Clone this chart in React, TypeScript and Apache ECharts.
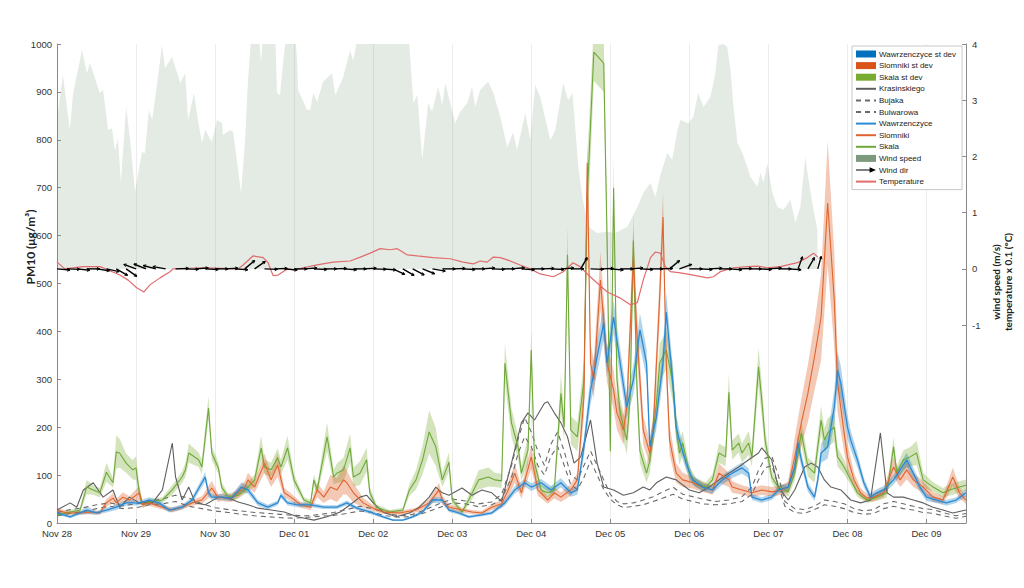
import React, { useEffect, useRef } from 'react';
import * as echarts from 'echarts';

const FONT = '"Liberation Sans", Arial, sans-serif';
const NAME_FONT = 'Lato, "Open Sans", sans-serif';

const dayLabels = ['Nov 28', 'Nov 29', 'Nov 30', 'Dec 01', 'Dec 02', 'Dec 03', 'Dec 04', 'Dec 05', 'Dec 06', 'Dec 07', 'Dec 08', 'Dec 09'];
const rightTicks = [-1, 0, 1, 2, 3, 4];

// [hours since Nov 28 00:00, wind speed m/s]
const windSpeed: [number, number][] = [
  [0, 2.65], [1.8, 3.45], [3.9, 2.47], [4.9, 3.13], [7.6, 3.89], [9.1, 3.48], [10, 3.66], [13, 3.13], [14, 3.18], [15.5, 2.47], [16.7, 2.5], [17.6, 2.1], [18.5, 2.33], [19.4, 1.53], [21, 2.88], [22.2, 2.29], [23.7, 1.37], [25.8, 2.08], [26.7, 2.06], [27.9, 2.83], [28.9, 2.65], [30.4, 3.3], [31.9, 3.98], [32.8, 3.57], [34.9, 3.77], [36.5, 3.48], [37.4, 3.3], [38.9, 3.48], [39.8, 2.65], [41.6, 3.13], [42.8, 2.65], [44, 2.24], [45, 2.47], [47, 2.26], [48.6, 2.65], [50.1, 2.59], [50.4, 2.38], [52.6, 2.47], [53.5, 2.43], [55.9, 1.35], [57.1, 2.29], [58, 3.36], [59.2, 4.3], [61, 4.3], [62, 3.66], [62.6, 4.3], [66.2, 4.3], [66.8, 3.13], [67.7, 3.09], [68.7, 3.7], [69.9, 4.3], [72.3, 4.3], [72.9, 3.66], [73.2, 3.18], [75.9, 2.83], [76.9, 2.83], [77.8, 3.13], [79, 2.97], [80.8, 3.33], [83.5, 3.48], [84.5, 3.09], [86.9, 3.41], [89, 3.89], [89.9, 3.7], [92, 4.3], [106.6, 4.3], [108.2, 2.95], [109.4, 3.09], [110.9, 1.94], [112.7, 2.95], [113.9, 2.79], [115.7, 3.24], [117, 2.92], [117.9, 3.3], [119.4, 2.95], [120.9, 2.59], [122.4, 2.79], [124.6, 2.95], [126, 3.24], [127, 2.88], [128.5, 3.18], [130.9, 3.33], [132.5, 3.13], [134.6, 2.7], [136.7, 2.17], [138.5, 2.42], [139.7, 2.12], [142.2, 2.77], [143.7, 2.29], [145.2, 3.27], [146.7, 3.06], [149.8, 2.29], [151.3, 2.47], [153.7, 3.3], [155.2, 3.0], [156.5, 3.13], [158.3, 1.81], [159.5, 1.28], [161.3, 0.75], [164, 0.64], [167.1, 0.66], [169.5, 0.64], [173.2, 0.75], [176.2, 1.1], [178, 1.35], [180.2, 1.53], [181.7, 1.28], [183.2, 1.67], [185.3, 2.06], [186.8, 1.94], [188.4, 2.47], [189.3, 2.65], [191.7, 2.59], [193.2, 2.7], [194.7, 3.13], [196.3, 2.88], [198.4, 3.06], [199.9, 3.48], [200.8, 3.98], [202.3, 4.0], [203.5, 3.95], [204.5, 3.54], [205.4, 2.88], [206.6, 2.24], [208.1, 2.06], [209.6, 1.81], [210.5, 1.64], [212.7, 1.46], [213.6, 1.71], [214.5, 1.53], [215.7, 1.88], [217.2, 1.35], [218.7, 1.1], [220.6, 1.05], [222.7, 1.23], [224.2, 0.82], [225.7, 1.1], [227.2, 1.99], [228.2, 1.58], [229.7, 1.05], [230.9, 0.69],
];

// [hours, temperature x 0.1 °C]
const temperature: [number, number][] = [
  [0, 0.12], [2.4, 0], [7.9, 0.04], [13.1, 0.04], [15.5, -0.02], [19.1, -0.11], [21.6, -0.2], [24.3, -0.34], [26.4, -0.41], [28.3, -0.28], [31.3, -0.16], [34.3, -0.05], [35.2, 0], [45, 0.02], [55, 0], [56.5, 0.07], [59.5, 0.23], [62.6, 0.2], [64.1, 0.11], [65.6, -0.12], [67.1, -0.11], [69.9, 0], [72.3, -0.02], [74.7, 0.02], [79, 0.07], [83.8, 0.12], [89, 0.14], [92.1, 0.21], [95.1, 0.28], [98.1, 0.36], [101.2, 0.34], [103.3, 0.36], [106.3, 0.25], [109.4, 0.23], [114.2, 0.2], [119.4, 0.18], [123.3, 0.12], [126.4, 0.09], [128.5, 0.14], [130.6, 0.12], [132.5, 0.21], [134.6, 0.2], [136.7, 0.16], [140.6, 0.07], [143.7, 0], [146.7, -0.09], [150.7, -0.14], [153.7, -0.05], [156.7, 0.11], [158.8, 0.04], [161.9, -0.14], [164, -0.25], [167.1, -0.41], [171, -0.52], [174.1, -0.64], [176.2, -0.6], [178, -0.2], [180.2, 0.2], [181.7, 0.3], [183.2, 0.28], [184.7, 0.04], [186.2, -0.05], [189.3, -0.07], [193.2, -0.11], [197.5, -0.16], [199.3, -0.14], [201.4, -0.05], [205.4, 0.02], [209.6, 0.04], [212.7, 0.05], [215.7, 0.02], [219.6, 0.04], [224.8, 0.11], [227.8, 0.2], [229.7, 0.28], [231, 0.21],
];

// [hours, arrow direction in degrees (0 = east, 90 = north)]
const windDir: [number, number][] = [
  [0, -5], [3, -2], [6, -6], [9, 0], [12, -8], [15, -12], [18, -30], [21, -35], [24, 160], [27, 158], [30, 165], [33, 170], [36, 2], [39, -2], [42, 4], [45, -3], [48, 0], [51, 3], [54, -4], [57, 40], [60, 35], [63, -2], [66, 2], [69, -5], [72, 0], [75, 4], [78, -3], [81, 0], [84, 2], [87, -4], [90, 0], [93, 3], [96, -2], [99, -5], [102, -25], [105, -30], [108, -28], [111, -22], [114, -10], [117, 0], [120, 2], [123, -3], [126, 0], [129, 4], [132, -2], [135, 0], [138, 5], [141, -4], [144, 0], [147, 2], [150, -3], [153, 4], [156, 0], [159, 60], [162, -2], [165, 2], [168, -5], [171, 0], [174, 4], [177, -3], [180, 0], [183, 2], [186, 40], [189, 20], [192, 0], [195, -3], [198, 3], [201, 0], [204, -4], [207, 2], [210, 0], [213, -3], [216, 4], [219, 0], [222, -4], [225, 70], [228, 60], [231, 75],
];

// [hours, PM10]
const krasinskiego: [number, number][] = [
  [0, 27], [4, 42], [6, 33], [8, 69], [11, 84], [14, 54], [17, 69], [19, 33], [22, 54], [25, 42], [29, 42], [32, 69], [35, 167], [36, 96], [38, 48], [40, 75], [42, 42], [45, 38], [49, 54], [52, 52], [55, 44], [58, 38], [61, 31], [65, 27], [69, 23], [73, 13], [78, 6], [82, 13], [86, 23], [89, 38], [92, 54], [94, 58], [96, 42], [99, 23], [103, 13], [107, 21], [110, 33], [113, 54], [115, 75], [117, 63], [119, 58], [123, 73], [126, 58], [129, 69], [132, 63], [135, 45], [138, 125], [141, 209], [143, 230], [145, 215], [148, 250], [149, 253], [151, 230], [153, 209], [155, 180], [157, 125], [159, 138], [162, 215], [164, 125], [166, 75], [169, 69], [172, 58], [175, 63], [178, 75], [180, 69], [182, 84], [185, 96], [188, 90], [192, 69], [195, 63], [198, 75], [201, 90], [204, 104], [207, 117], [210, 132], [213, 146], [214, 157], [217, 132], [219, 75], [222, 48], [224, 69], [227, 117], [229, 125], [231, 117], [233, 90], [235, 75], [238, 69], [241, 48], [244, 42], [247, 48], [250, 188], [252, 63], [254, 54], [257, 54], [260, 48], [263, 42], [266, 33], [269, 27], [272, 21], [276, 27],
];

const bujaka: [number, number][] = [
  [0, 22], [4, 28], [8, 32], [12, 38], [16, 42], [20, 36], [24, 40], [28, 45], [32, 50], [36, 58], [40, 52], [44, 40], [48, 32], [52, 28], [56, 25], [60, 22], [64, 20], [68, 18], [72, 16], [76, 15], [80, 18], [84, 22], [88, 28], [92, 35], [96, 30], [100, 20], [104, 15], [108, 18], [112, 28], [116, 40], [120, 50], [124, 46], [128, 40], [132, 44], [135, 60], [138, 120], [140, 175], [142, 220], [144, 190], [146, 150], [148, 120], [150, 165], [152, 190], [154, 150], [156, 100], [158, 90], [160, 120], [162, 150], [164, 120], [166, 90], [168, 60], [170, 45], [172, 40], [175, 42], [178, 48], [181, 55], [184, 65], [187, 75], [190, 60], [193, 55], [196, 50], [200, 45], [204, 48], [208, 55], [211, 75], [213, 110], [215, 135], [217, 140], [219, 100], [221, 45], [224, 30], [227, 28], [230, 35], [233, 48], [236, 45], [239, 40], [242, 30], [245, 25], [248, 28], [251, 40], [254, 45], [257, 40], [260, 35], [263, 30], [266, 28], [270, 20], [273, 15], [276, 20],
];

const bulwarowa: [number, number][] = [
  [0, 15], [4, 20], [8, 24], [12, 30], [16, 35], [20, 30], [24, 32], [28, 38], [32, 40], [36, 45], [40, 35], [44, 30], [48, 25], [52, 22], [56, 18], [60, 15], [64, 13], [68, 11], [72, 10], [76, 12], [80, 14], [84, 16], [88, 20], [92, 25], [96, 22], [100, 15], [104, 12], [108, 14], [112, 22], [116, 32], [120, 42], [124, 40], [128, 34], [132, 38], [135, 50], [138, 95], [140, 145], [142, 180], [144, 160], [146, 120], [148, 100], [150, 140], [152, 160], [154, 120], [156, 80], [158, 70], [160, 95], [162, 130], [164, 100], [166, 70], [168, 50], [170, 38], [172, 32], [175, 35], [178, 38], [181, 45], [184, 52], [187, 60], [190, 50], [193, 45], [196, 40], [200, 38], [204, 40], [208, 45], [211, 60], [213, 90], [215, 115], [217, 120], [219, 80], [221, 35], [224, 22], [227, 20], [230, 28], [233, 38], [236, 35], [239, 30], [242, 22], [245, 18], [248, 20], [251, 30], [254, 35], [257, 30], [260, 27], [263, 22], [266, 20], [270, 14], [273, 10], [276, 14],
];

// [hours, mean PM10, st dev]
const wawrzenczyce: [number, number, number][] = [
  [0, 21, 4], [4, 13, 3], [7, 21, 4], [9, 27, 8], [12, 21, 4], [15, 27, 5], [18, 33, 6], [21, 42, 6], [25, 42, 5], [28, 48, 6], [31, 42, 6], [34, 27, 5], [38, 33, 5], [41, 48, 6], [45, 96, 10], [46, 63, 8], [47, 54, 6], [50, 54, 6], [53, 52, 6], [56, 75, 10], [58, 69, 8], [61, 42, 6], [64, 33, 5], [67, 42, 5], [68, 58, 6], [70, 42, 5], [73, 38, 5], [77, 38, 5], [81, 33, 4], [85, 33, 4], [88, 42, 5], [91, 31, 4], [95, 23, 4], [99, 13, 3], [102, 6, 2], [105, 6, 2], [108, 13, 3], [111, 23, 4], [114, 48, 6], [117, 48, 6], [119, 27, 4], [122, 21, 4], [125, 13, 3], [129, 17, 3], [132, 21, 4], [136, 42, 6], [139, 69, 8], [142, 84, 8], [144, 75, 8], [147, 84, 8], [150, 69, 8], [153, 84, 10], [156, 63, 8], [158, 69, 10], [160, 159, 20], [162, 278, 30], [164, 347, 35], [166, 418, 35], [167, 334, 30], [169, 430, 35], [171, 334, 30], [173, 242, 25], [175, 299, 30], [177, 403, 35], [179, 334, 30], [180, 159, 20], [182, 221, 25], [184, 334, 35], [185, 440, 40], [187, 292, 30], [188, 200, 25], [189, 173, 20], [191, 125, 15], [193, 90, 10], [196, 75, 8], [199, 69, 8], [202, 90, 10], [205, 104, 10], [208, 115, 12], [210, 104, 10], [211, 54, 6], [214, 48, 6], [217, 54, 6], [219, 69, 8], [222, 75, 8], [224, 117, 12], [225, 167, 20], [226, 132, 15], [228, 75, 10], [230, 54, 8], [231, 90, 12], [232, 146, 20], [234, 159, 25], [236, 242, 35], [237, 319, 40], [238, 292, 35], [240, 200, 25], [241, 173, 20], [243, 132, 15], [245, 84, 10], [247, 54, 8], [249, 63, 8], [251, 69, 8], [254, 90, 10], [256, 111, 12], [258, 132, 15], [260, 104, 12], [262, 75, 10], [264, 54, 8], [267, 48, 6], [270, 42, 6], [273, 48, 6], [276, 63, 8],
];

const slomniki: [number, number, number][] = [
  [0, 27, 5], [3, 21, 4], [7, 21, 4], [10, 23, 4], [13, 21, 4], [15, 42, 8], [17, 52, 10], [18, 42, 8], [20, 54, 10], [22, 48, 8], [25, 63, 15], [26, 38, 6], [28, 42, 6], [32, 33, 5], [35, 27, 5], [38, 33, 5], [41, 42, 6], [44, 48, 8], [47, 73, 15], [49, 52, 8], [50, 54, 8], [53, 52, 8], [57, 75, 12], [58, 90, 15], [60, 75, 12], [63, 125, 20], [65, 90, 15], [67, 121, 25], [69, 63, 10], [71, 54, 8], [74, 38, 6], [77, 33, 6], [79, 69, 15], [81, 54, 12], [83, 75, 25], [85, 69, 25], [87, 90, 30], [88, 84, 25], [90, 63, 20], [93, 42, 10], [96, 31, 6], [99, 23, 4], [104, 21, 4], [109, 27, 5], [113, 42, 8], [116, 69, 15], [117, 48, 10], [119, 33, 6], [123, 27, 5], [126, 23, 4], [129, 21, 4], [132, 33, 6], [135, 40, 8], [137, 69, 15], [139, 104, 20], [141, 63, 12], [144, 138, 25], [146, 69, 12], [149, 48, 8], [151, 63, 12], [153, 54, 10], [156, 69, 12], [158, 90, 15], [160, 263, 40], [161, 752, 50], [162, 334, 40], [163, 299, 40], [165, 507, 60], [167, 334, 40], [169, 278, 40], [170, 230, 35], [172, 194, 30], [173, 242, 35], [175, 555, 60], [176, 403, 50], [178, 194, 30], [180, 146, 25], [181, 194, 30], [183, 472, 50], [184, 639, 50], [185, 334, 40], [186, 173, 30], [188, 104, 20], [190, 90, 15], [193, 84, 12], [196, 75, 10], [199, 69, 10], [201, 104, 20], [204, 90, 15], [205, 75, 12], [208, 69, 10], [211, 63, 10], [214, 69, 10], [217, 65, 10], [220, 69, 10], [222, 75, 12], [224, 138, 40], [226, 209, 50], [228, 271, 60], [230, 347, 70], [232, 430, 90], [234, 668, 130], [236, 466, 100], [237, 292, 60], [239, 188, 40], [240, 138, 30], [242, 90, 15], [244, 63, 10], [246, 52, 8], [248, 54, 8], [251, 63, 10], [254, 117, 20], [256, 90, 15], [258, 111, 20], [260, 90, 15], [263, 75, 12], [266, 54, 10], [269, 48, 8], [272, 96, 20], [274, 63, 12], [276, 48, 8],
];

const skala: [number, number, number][] = [
  [0, 17, 4], [7, 27, 5], [9, 75, 15], [11, 69, 10], [13, 63, 10], [15, 106, 20], [17, 84, 10], [18, 148, 35], [19, 146, 30], [21, 125, 20], [23, 111, 20], [24, 115, 25], [25, 63, 12], [26, 38, 6], [28, 44, 6], [32, 48, 6], [35, 69, 10], [38, 96, 12], [39, 111, 15], [40, 146, 20], [43, 132, 15], [44, 117, 15], [46, 240, 25], [47, 146, 15], [49, 115, 12], [50, 75, 10], [52, 54, 8], [55, 58, 8], [58, 75, 10], [60, 90, 12], [62, 157, 25], [63, 117, 15], [65, 111, 15], [67, 136, 20], [68, 117, 15], [70, 157, 25], [72, 90, 12], [75, 48, 6], [77, 42, 6], [78, 90, 12], [79, 69, 10], [82, 180, 30], [84, 96, 15], [85, 104, 20], [87, 111, 25], [89, 157, 30], [90, 96, 20], [92, 104, 25], [94, 132, 25], [95, 63, 12], [97, 33, 6], [101, 23, 4], [105, 27, 5], [107, 69, 12], [109, 90, 20], [111, 132, 30], [113, 190, 45], [115, 159, 40], [117, 90, 15], [119, 127, 20], [120, 48, 8], [123, 23, 5], [125, 48, 10], [128, 90, 20], [131, 96, 20], [133, 90, 15], [135, 88, 15], [136, 334, 40], [138, 209, 30], [140, 159, 25], [141, 104, 15], [143, 152, 30], [144, 361, 40], [145, 125, 20], [147, 69, 10], [149, 63, 10], [151, 69, 10], [153, 271, 40], [154, 200, 30], [155, 560, 60], [156, 194, 30], [158, 180, 30], [160, 299, 40], [161, 680, 80], [163, 983, 60], [166, 960, 60], [167, 600, 50], [168, 150, 30], [169, 700, 60], [170, 300, 40], [171, 230, 30], [173, 173, 30], [174, 260, 40], [175, 590, 60], [176, 300, 40], [177, 150, 25], [179, 104, 20], [180, 130, 25], [182, 250, 40], [183, 334, 40], [185, 361, 40], [187, 292, 40], [188, 200, 30], [189, 146, 25], [190, 167, 25], [192, 104, 15], [194, 84, 10], [197, 75, 10], [199, 90, 12], [201, 146, 20], [203, 138, 20], [204, 273, 40], [205, 152, 20], [207, 167, 20], [208, 146, 20], [210, 167, 25], [211, 138, 20], [213, 326, 40], [214, 257, 35], [215, 173, 25], [217, 96, 12], [219, 75, 10], [222, 65, 10], [224, 104, 15], [226, 188, 25], [228, 117, 20], [230, 104, 20], [232, 215, 30], [233, 173, 25], [234, 188, 30], [236, 200, 30], [237, 138, 20], [239, 117, 15], [241, 90, 10], [243, 63, 8], [246, 48, 6], [249, 54, 8], [252, 63, 10], [254, 159, 20], [255, 104, 15], [257, 132, 20], [259, 138, 20], [261, 146, 25], [263, 90, 15], [266, 75, 10], [269, 63, 10], [271, 69, 12], [274, 75, 12], [276, 79, 12],
];

const C_BLUE = '#0072BD';
const C_ORANGE = '#D95319';
const C_GREEN = '#77AC30';
const C_WIND = '#6f8f70';

function bandSeries(name: string, data: [number, number, number][], color: string, opacity: number) {
  return {
    name, type: 'custom', yAxisIndex: 0, silent: true, z: 2, clip: true,
    color, itemStyle: { color },
    data: [[data[0][0], data[0][1]]],
    encode: { x: 0, y: 1 },
    renderItem: (_params: any, api: any) => {
      const top = data.map((d) => api.coord([d[0], d[1] + d[2]]));
      const bot = data.slice().reverse().map((d) => api.coord([d[0], d[1] - d[2]]));
      return {
        type: 'polygon',
        shape: { points: top.concat(bot) },
        style: { fill: color, opacity, stroke: 'none' },
      };
    },
  };
}

function lineSeries(name: string, data: number[][], color: string, width: number, dashed = false) {
  return {
    name, type: 'line', symbol: 'none', yAxisIndex: 0, silent: true,
    data: data.map((d) => [d[0], d[1]]),
    color,
    lineStyle: { color, width, type: dashed ? [5, 4] : 'solid' },
    itemStyle: { color },
    emphasis: { disabled: true }, z: 3,
  };
}

const hideSym = { opacity: 0, borderWidth: 0 };

export default function App() {
  const ref = useRef<HTMLDivElement>(null);
  useEffect(() => {
    document.body.style.margin = '0';
    const chart = echarts.init(ref.current as HTMLDivElement, null, { renderer: 'svg' });
    const axisColor = '#8a8a8a';
    const option: any = {
      animation: false,
      backgroundColor: '#ffffff',
      grid: { left: 57, right: 58, top: 44, bottom: 65, containLabel: false },
      xAxis: {
        type: 'value', min: 0, max: 276, interval: 24,
        axisLine: { show: true, lineStyle: { color: axisColor } },
        axisTick: { show: true, inside: true, length: 4, lineStyle: { color: axisColor } },
        axisLabel: {
          formatter: (v: number) => (v % 24 === 0 && dayLabels[v / 24]) ? dayLabels[v / 24] : '',
          color: '#333', fontSize: 9.5, fontFamily: FONT, margin: 5,
        },
        splitLine: { show: true, lineStyle: { color: '#ececec', width: 1 } },
      },
      yAxis: [
        {
          type: 'value', min: 0, max: 1000, interval: 100, position: 'left',
          axisLine: { show: true, lineStyle: { color: axisColor } },
          axisTick: { show: true, inside: true, length: 4, lineStyle: { color: axisColor } },
          axisLabel: { color: '#333', fontSize: 9.5, fontFamily: FONT, margin: 5, formatter: (v: number) => String(v) },
          splitLine: { show: false },
        },
        {
          type: 'value', min: -4.52, max: 4, position: 'right',
          axisLine: { show: true, lineStyle: { color: axisColor } },
          axisTick: { show: true, inside: true, length: 4, lineStyle: { color: axisColor }, customValues: rightTicks },
          axisLabel: { color: '#333', fontSize: 9.5, fontFamily: FONT, margin: 6, customValues: rightTicks, formatter: (v: number) => String(v) },
          splitLine: { show: false },
        },
      ],
      legend: {
        orient: 'vertical', left: 852, top: 46,
        itemWidth: 20, itemHeight: 7, itemGap: 3.6,
        padding: [4, 6, 4, 3],
        backgroundColor: '#ffffff', borderColor: '#c8c8c8', borderWidth: 1,
        selectedMode: false,
        textStyle: { fontSize: 8, color: '#222', fontFamily: FONT, padding: [0, 0, 0, -2] },
        data: [
          { name: 'Wawrzenczyce st dev', icon: 'rect', itemStyle: { color: C_BLUE, opacity: 1 } },
          { name: 'Slomniki st dev', icon: 'rect', itemStyle: { color: C_ORANGE, opacity: 1 } },
          { name: 'Skala st dev', icon: 'rect', itemStyle: { color: C_GREEN, opacity: 1 } },
          { name: 'Krasinskiego', itemStyle: hideSym },
          { name: 'Bujaka', itemStyle: hideSym },
          { name: 'Bulwarowa', itemStyle: hideSym },
          { name: 'Wawrzenczyce', itemStyle: hideSym },
          { name: 'Slomniki', itemStyle: hideSym },
          { name: 'Skala', itemStyle: hideSym },
          { name: 'Wind speed', icon: 'rect', itemStyle: { color: '#7d997e', opacity: 1 } },
          { name: 'Wind dir', icon: 'path://M0,3.3L17,3.3L17,0.6L25,4L17,7.4L17,4.7L0,4.7Z', itemStyle: { color: '#000' } },
          { name: 'Temperature', itemStyle: hideSym },
        ],
      },
      graphic: [
        {
          type: 'text', x: 30, y: 247, rotation: Math.PI / 2, silent: true,
          style: { text: 'PM10 (μg/m³)', font: `bold 12px ${NAME_FONT}`, fill: '#222', textAlign: 'center', textVerticalAlign: 'middle' },
        },
        {
          type: 'text', x: 1002, y: 282, rotation: Math.PI / 2, silent: true,
          style: { text: 'wind speed (m/s)\ntemperature x 0.1 (°C)', font: `bold 10px ${NAME_FONT}`, fill: '#222', textAlign: 'center', textVerticalAlign: 'middle', lineHeight: 12 },
        },
      ],
      series: [
        {
          name: 'Wind speed', type: 'line', yAxisIndex: 1, symbol: 'none', silent: true,
          data: windSpeed, color: '#7d997e',
          lineStyle: { width: 0, opacity: 0 },
          areaStyle: { color: C_WIND, opacity: 0.19, origin: 'auto' },
          itemStyle: { color: '#7d997e' },
          emphasis: { disabled: true }, z: 1,
        },
        bandSeries('Skala st dev', skala, C_GREEN, 0.32),
        bandSeries('Slomniki st dev', slomniki, C_ORANGE, 0.32),
        bandSeries('Wawrzenczyce st dev', wawrzenczyce, C_BLUE, 0.3),
        lineSeries('Krasinskiego', krasinskiego, '#5e5e5e', 1.1),
        lineSeries('Bujaka', bujaka, '#6a6a6a', 1.1, true),
        lineSeries('Bulwarowa', bulwarowa, '#6a6a6a', 1.1, true),
        lineSeries('Skala', skala, '#6fa83a', 1.1),
        lineSeries('Slomniki', slomniki, '#e0652e', 1.1),
        lineSeries('Wawrzenczyce', wawrzenczyce, '#2a8ad4', 1.3),
        {
          name: 'Temperature', type: 'line', yAxisIndex: 1, symbol: 'none', silent: true,
          data: temperature, color: '#e06c6c',
          lineStyle: { color: '#e06c6c', width: 1.2 }, itemStyle: { color: '#e06c6c' },
          emphasis: { disabled: true }, z: 4,
        },
        {
          name: 'Wind dir', type: 'custom', yAxisIndex: 1, silent: true, z: 5,
          itemStyle: { color: '#000' },
          encode: { x: 0, y: 1 },
          data: windDir.map((d) => [d[0], 0, d[1]]),
          renderItem: (_params: any, api: any) => {
            const h = api.value(0);
            const ang = (api.value(2) * Math.PI) / 180;
            const p = api.coord([h, 0]);
            const L = 13;
            const ex = p[0] + L * Math.cos(ang);
            const ey = p[1] - L * Math.sin(ang);
            const hl = 3;
            const a1 = ang + Math.PI - 0.5;
            const a2 = ang + Math.PI + 0.5;
            return {
              type: 'group',
              children: [
                { type: 'line', shape: { x1: p[0], y1: p[1], x2: ex, y2: ey }, style: { stroke: '#000', lineWidth: 1.4 } },
                {
                  type: 'polyline',
                  shape: { points: [[ex + hl * Math.cos(a1), ey - hl * Math.sin(a1)], [ex, ey], [ex + hl * Math.cos(a2), ey - hl * Math.sin(a2)]] },
                  style: { stroke: '#000', fill: 'none', lineWidth: 1 },
                },
              ],
            };
          },
        },
      ],
    };
    chart.setOption(option);
    return () => chart.dispose();
  }, []);
  return <div ref={ref} style={{ width: 1024, height: 588 }} />;
}
